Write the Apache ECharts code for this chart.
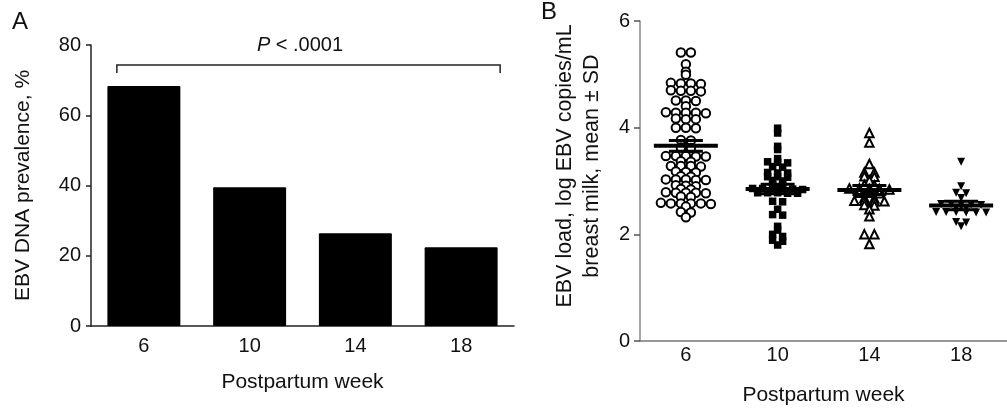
<!DOCTYPE html>
<html>
<head>
<meta charset="utf-8">
<style>
  html, body { margin: 0; padding: 0; background: #fff; }
  #chart { width: 1007px; height: 411px; }
</style>
<script src="https://cdn.jsdelivr.net/npm/echarts@6/dist/echarts.min.js"></script>
</head>
<body>
<div id="chart"></div>
<script>
// panel A: prevalence per week
const weeks = ['6', '10', '14', '18'];
const prevalence = [68.3, 39.5, 26.4, 22.4];

// panel B: individual log loads
const load6 = [5.41, 5.41, 5.19, 5.05, 4.99,
  4.84, 4.83, 4.83, 4.82, 4.70, 4.69, 4.69, 4.68,
  4.51, 4.51, 4.50, 4.40,
  4.29, 4.28, 4.28, 4.27, 4.28, 4.17, 4.16, 4.16,
  4.00, 4.00, 3.99, 3.77, 3.76, 3.63, 3.62,
  3.47, 3.47, 3.46, 3.47, 3.46, 3.37, 3.36,
  3.28, 3.28, 3.27, 3.28, 3.18, 3.17, 3.16, 3.09, 3.08,
  3.03, 3.03, 3.02, 3.03, 3.02, 2.92, 2.91, 2.90, 2.85, 2.84,
  2.78, 2.78, 2.77, 2.78, 2.79, 2.71, 2.70,
  2.58, 2.58, 2.57, 2.58, 2.59, 2.58, 2.52, 2.42, 2.41, 2.32];
const load10 = [3.99, 3.90, 3.65, 3.59, 3.42, 3.36, 3.35, 3.34, 3.27, 3.26,
  3.16, 3.15, 3.15, 3.08, 3.07, 3.08, 3.01, 3.00, 2.93, 2.92,
  2.86, 2.85, 2.85, 2.86, 2.85, 2.84, 2.78, 2.77, 2.78, 2.78, 2.77,
  2.62, 2.61, 2.47, 2.37, 2.36, 2.15, 2.08, 2.00, 1.96, 1.89, 1.87, 1.80];
const load14 = [3.90, 3.72, 3.32, 3.16, 3.16, 3.09, 3.08, 3.01, 2.93, 2.92,
  2.86, 2.85, 2.85, 2.86, 2.84, 2.78, 2.77, 2.78, 2.68, 2.67,
  2.63, 2.62, 2.63, 2.62, 2.55, 2.54, 2.47, 2.34, 2.00, 2.00, 1.82];
const load18 = [3.36, 2.90, 2.78, 2.77, 2.68,
  2.57, 2.56, 2.56, 2.55, 2.57, 2.50, 2.49,
  2.42, 2.41, 2.42, 2.41, 2.42, 2.41, 2.23, 2.22, 2.15];
const loadMean = [3.66, 2.85, 2.83, 2.54];
const loadErr = [0.10, 0.09, 0.085, 0.08];

const font = "'Liberation Sans', Arial, Helvetica, sans-serif";

// put dots of about the same value on one row, centred on the week
function spread(values, tol, step) {
  const order = values.map((v, i) => i).sort((a, b) => values[b] - values[a]);
  const rows = [];
  order.forEach(i => {
    const last = rows[rows.length - 1];
    if (last && values[last[0]] - values[i] <= tol) {
      last.push(i);
    } else {
      rows.push([i]);
    }
  });
  const offs = new Array(values.length).fill(0);
  rows.forEach(r => {
    r.forEach((i, k) => { offs[i] = (k - (r.length - 1) / 2) * step; });
  });
  return offs;
}

function dots(values, cat) {
  const offs = spread(values, 0.045, 10);
  return values.map((v, j) => ({ value: [cat, v], symbolOffset: [offs[j], 0] }));
}

let chart = echarts.init(document.getElementById('chart'));

chart.setOption({
  animation: false,
  textStyle: { fontFamily: font },
  grid: [
    { left: 91, top: 45, width: 423, height: 281 },
    { left: 640, top: 21, width: 379, height: 321 }
  ],
  xAxis: [{
    gridIndex: 0,
    type: 'category',
    data: weeks,
    name: 'Postpartum week',
    nameLocation: 'middle',
    nameGap: 46,
    nameTextStyle: { fontSize: 21, color: '#111', fontFamily: font },
    axisLine: { lineStyle: { color: '#222', width: 1.5 } },
    axisTick: { alignWithLabel: true, length: 5, lineStyle: { color: '#222', width: 1.5 } },
    axisLabel: { fontSize: 20, color: '#111', margin: 10, fontFamily: font }
  }, {
    gridIndex: 1,
    type: 'category',
    data: weeks,
    name: 'Postpartum week',
    nameLocation: 'middle',
    nameGap: 44,
    nameTextStyle: { fontSize: 21, color: '#111', fontFamily: font },
    axisLine: { lineStyle: { color: '#777', width: 1.5 } },
    axisTick: { alignWithLabel: true, length: 6, lineStyle: { color: '#555', width: 1.5 } },
    axisLabel: { fontSize: 20, color: '#111', margin: 4, fontFamily: font }
  }],
  yAxis: [{
    gridIndex: 0,
    type: 'value',
    min: 0,
    max: 80,
    interval: 20,
    name: 'EBV DNA prevalence, %',
    nameLocation: 'middle',
    nameGap: 57,
    nameRotate: 90,
    nameTextStyle: { fontSize: 21, color: '#111', fontFamily: font },
    axisLine: { show: true, lineStyle: { color: '#222', width: 1.5 } },
    axisTick: { show: true, length: 5, lineStyle: { color: '#222', width: 1.5 } },
    axisLabel: { fontSize: 20, color: '#111', margin: 10, fontFamily: font },
    splitLine: { show: false }
  }, {
    gridIndex: 1,
    type: 'value',
    min: 0,
    max: 6,
    interval: 2,
    axisLine: { show: true, lineStyle: { color: '#888', width: 1.5 } },
    axisTick: { show: true, length: 6, lineStyle: { color: '#555', width: 1.5 } },
    axisLabel: { fontSize: 20, color: '#111', margin: 10, fontFamily: font },
    splitLine: { show: false }
  }],
  graphic: [
    { type: 'text', left: 12, top: 10, style: { text: 'A', fill: '#111', font: '24px ' + font } },
    { type: 'text', left: 541, top: 0, style: { text: 'B', fill: '#111', font: '24px ' + font } },
    {
      type: 'text', x: 300, y: 45,
      style: {
        text: '{i|P} < .0001', align: 'center', verticalAlign: 'middle',
        textAlign: 'center', textVerticalAlign: 'middle',
        fontSize: 20, fill: '#111', fontFamily: font,
        rich: { i: { fontStyle: 'italic', fontSize: 20, fontFamily: font } }
      }
    },
    {
      type: 'text', x: 579, y: 166, rotation: Math.PI / 2,
      style: {
        text: 'EBV load, log EBV copies/mL\nbreast milk, mean \u00b1 SD',
        align: 'center', verticalAlign: 'middle',
        textAlign: 'center', textVerticalAlign: 'middle',
        fontSize: 21.5, lineHeight: 27, fill: '#111', fontFamily: font
      }
    }
  ],
  series: [{
    type: 'bar',
    xAxisIndex: 0,
    yAxisIndex: 0,
    data: prevalence,
    barWidth: '69%',
    itemStyle: { color: '#000', borderRadius: 1 }
  }, {
    // significance bracket over the bars
    type: 'custom',
    xAxisIndex: 0,
    yAxisIndex: 0,
    data: [[0, 3, 74.3, 72.0]],
    renderItem: function (params, api) {
      const a = api.coord([api.value(0), api.value(2)]);
      const b = api.coord([api.value(1), api.value(2)]);
      const t = api.coord([api.value(0), api.value(3)]);
      const x0 = a[0] - 27, x1 = b[0] + 39;
      return {
        type: 'polyline',
        shape: { points: [[x0, t[1]], [x0, a[1]], [x1, a[1]], [x1, t[1]]] },
        style: { stroke: '#222', lineWidth: 1.5, fill: null }
      };
    }
  }, {
    type: 'scatter',
    xAxisIndex: 1,
    yAxisIndex: 1,
    data: dots(load6, 0),
    symbol: 'circle',
    symbolSize: 8.5,
    itemStyle: { color: '#fff', borderColor: '#000', borderWidth: 2, opacity: 1 }
  }, {
    type: 'scatter',
    xAxisIndex: 1,
    yAxisIndex: 1,
    data: dots(load10, 1),
    symbol: 'rect',
    symbolSize: 7.5,
    itemStyle: { color: '#000', opacity: 1 }
  }, {
    type: 'scatter',
    xAxisIndex: 1,
    yAxisIndex: 1,
    data: dots(load14, 2),
    symbol: 'triangle',
    symbolSize: 8.5,
    itemStyle: { color: '#fff', borderColor: '#000', borderWidth: 2, opacity: 1 }
  }, {
    type: 'scatter',
    xAxisIndex: 1,
    yAxisIndex: 1,
    data: dots(load18, 3),
    symbol: 'triangle',
    symbolRotate: 180,
    symbolSize: 8,
    itemStyle: { color: '#000', opacity: 1 }
  }, {
    // mean line with short error caps
    type: 'custom',
    xAxisIndex: 1,
    yAxisIndex: 1,
    z: 10,
    data: loadMean.map((m, i) => [i, m, loadErr[i]]),
    renderItem: function (params, api) {
      const c = api.coord([api.value(0), api.value(1)]);
      const hi = api.coord([api.value(0), api.value(1) + api.value(2)]);
      const lo = api.coord([api.value(0), api.value(1) - api.value(2)]);
      const st = { fill: '#000' };
      return {
        type: 'group',
        children: [
          { type: 'rect', shape: { x: c[0] - 32, y: c[1] - 2, width: 64, height: 4 }, style: st },
          { type: 'rect', shape: { x: c[0] - 17, y: hi[1] - 1.5, width: 34, height: 3 }, style: st },
          { type: 'rect', shape: { x: c[0] - 17, y: lo[1] - 1.5, width: 34, height: 3 }, style: st },
          { type: 'rect', shape: { x: c[0] - 1.5, y: hi[1], width: 3, height: lo[1] - hi[1] }, style: st }
        ]
      };
    }
  }]
});

window.addEventListener('resize', () => {
  chart.resize();
});
</script>
</body>
</html>
